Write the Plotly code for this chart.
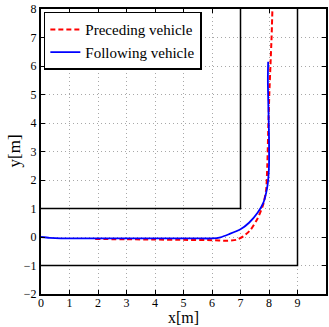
import plotly.graph_objects as go

# Road boundaries
inner_x = [0, 7, 7]
inner_y = [1, 1, 8]
outer_x = [0, 9, 9]
outer_y = [-1, -1, 8]

# Preceding vehicle trajectory
preceding_x = [1.9, 3.0, 4.0, 5.0, 6.0, 6.5, 6.85, 7.1, 7.35, 7.6, 7.8, 7.9, 7.94, 7.98, 8.01, 8.05, 8.09, 8.12]
preceding_y = [-0.07, -0.08, -0.09, -0.1, -0.11, -0.13, -0.1, 0.02, 0.25, 0.65, 1.15, 1.65, 2.5, 4.0, 5.0, 6.0, 7.0, 8.0]

# Following vehicle trajectory
following_x = [0, 0.3, 0.7, 1.5, 3.0, 4.5, 5.5, 6.0, 6.3, 6.6, 7.0, 7.3, 7.6, 7.8, 7.9, 7.96, 8.0, 8.0, 7.98, 7.96, 7.97]
following_y = [0, -0.03, -0.05, -0.05, -0.05, -0.05, -0.05, -0.05, -0.01, 0.1, 0.27, 0.5, 0.85, 1.2, 1.55, 1.9, 2.5, 3.5, 4.5, 5.5, 6.15]

FONT = "Times New Roman, Liberation Serif, serif"

fig = go.Figure()
fig.add_trace(go.Scatter(x=inner_x, y=inner_y, mode="lines", line=dict(color="black", width=1.5),
                         showlegend=False, hoverinfo="skip"))
fig.add_trace(go.Scatter(x=outer_x, y=outer_y, mode="lines", line=dict(color="black", width=1.5),
                         showlegend=False, hoverinfo="skip"))
fig.add_trace(go.Scatter(x=preceding_x, y=preceding_y, mode="lines", name="Preceding vehicle",
                         line=dict(color="red", width=2, dash="5px,3px", shape="spline", smoothing=0.6)))
fig.add_trace(go.Scatter(x=following_x, y=following_y, mode="lines", name="Following vehicle",
                         line=dict(color="blue", width=1.8, shape="spline", smoothing=0.6)))

axis_common = dict(
    showline=True, linecolor="black", linewidth=2, mirror="allticks",
    ticks="inside", ticklen=4, tickcolor="black", tickwidth=1,
    showgrid=True, gridcolor="#a8a8a8", griddash="1px,3px", gridwidth=1,
    zeroline=False, tickfont=dict(family=FONT, size=12, color="black"),
    automargin=False, dtick=1,
)

fig.update_layout(
    template="none",
    width=329, height=327,
    margin=dict(l=41, r=3, t=9, b=33),
    paper_bgcolor="white", plot_bgcolor="white",
    font=dict(family=FONT, color="black"),
    xaxis=dict(range=[0, 10], ticklabelstandoff=-3, **axis_common),
    yaxis=dict(range=[-2, 8], **axis_common),
    legend=dict(x=0.01, y=0.99, xanchor="left", yanchor="top", bgcolor="white",
                bordercolor="black", borderwidth=1.5, font=dict(family=FONT, size=15, color="black"),
                itemwidth=30, tracegroupgap=0),
    annotations=[
        dict(text="x[m]", xref="paper", yref="paper", x=0.5, y=0, yshift=-23, showarrow=False,
             xanchor="center", yanchor="middle", font=dict(family=FONT, size=16, color="black")),
        dict(text="y[m]", xref="paper", yref="paper", x=0, y=0.5, xshift=-27, showarrow=False,
             xanchor="center", yanchor="middle", textangle=-90, font=dict(family=FONT, size=17, color="black")),
    ],
)

fig.write_html("out.html")
